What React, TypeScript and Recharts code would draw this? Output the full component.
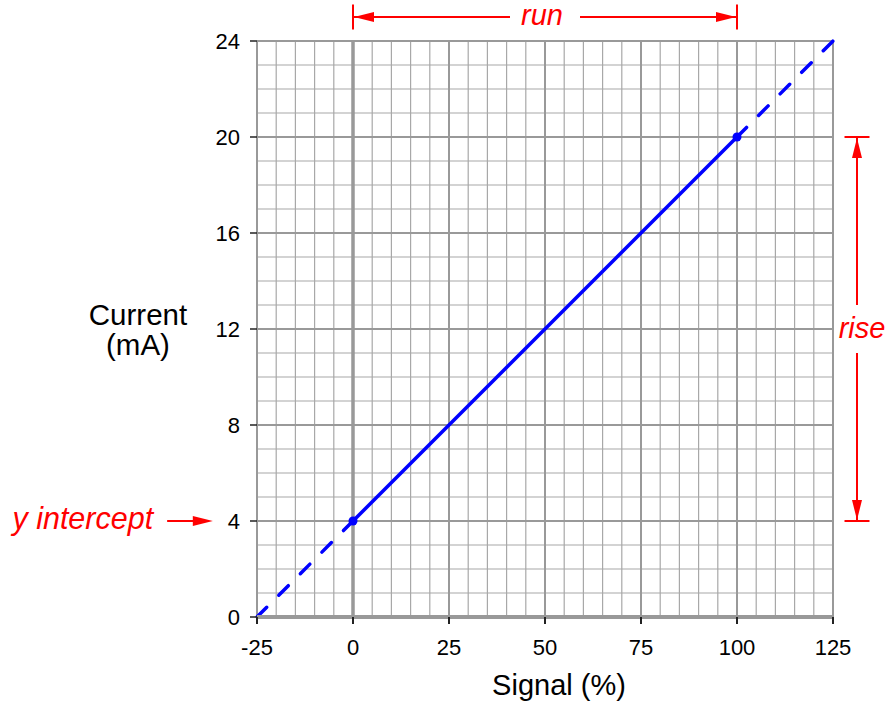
import React from "react";
import { LineChart, Line, XAxis, YAxis, CartesianGrid, ReferenceLine } from "recharts";

// ---- data ----
const signalPct = [-25, 0, 100, 125];
const currentMA = [0, 4, 20, 24];

const xTicks = [-25, 0, 25, 50, 75, 100, 125];
const yTicks = [0, 4, 8, 12, 16, 20, 24];
const xMinor = [-25, -20, -15, -10, -5, 0, 5, 10, 15, 20, 25, 30, 35, 40, 45, 50, 55, 60, 65, 70, 75, 80, 85, 90, 95, 100, 105, 110, 115, 120, 125];
const yMinor = [0, 1, 2, 3, 4, 5, 6, 7, 8, 9, 10, 11, 12, 13, 14, 15, 16, 17, 18, 19, 20, 21, 22, 23, 24];

const runSpan = [0, 100];
const riseSpan = [4, 20];
const interceptValue = 4;

const pt = (i: number) => ({ x: signalPct[i], y: currentMA[i] });
const solidSegment = [pt(1), pt(2)];
const lowerDashed = [pt(1), pt(0)];
const upperDashed = [pt(2), pt(3)];

const FONT = "'Liberation Sans', Arial, sans-serif";
const RED = "#ff0000";
const BLUE = "#0000ff";
const GRID = "#a8a8a8";

function arrowHead(tx: number, ty: number, dx: number, dy: number, len = 20, half = 5) {
  const bx = tx - dx * len;
  const by = ty - dy * len;
  const px = -dy * half;
  const py = dx * half;
  return `${tx},${ty} ${bx + px},${by + py} ${bx - px},${by - py}`;
}

const RunShape = (p: any) => {
  const { x1, x2, y1 } = p;
  const mid = (x1 + x2) / 2;
  return (
    <g>
      <line x1={x1} x2={x1} y1={y1 - 12.5} y2={y1 + 12.5} stroke={RED} strokeWidth={2} />
      <line x1={x2} x2={x2} y1={y1 - 12.5} y2={y1 + 12.5} stroke={RED} strokeWidth={2} />
      <line x1={x1} x2={mid - 35} y1={y1} y2={y1} stroke={RED} strokeWidth={2} />
      <line x1={mid + 35} x2={x2} y1={y1} y2={y1} stroke={RED} strokeWidth={2} />
      <polygon points={arrowHead(x1 + 1, y1, -1, 0)} fill={RED} />
      <polygon points={arrowHead(x2 - 1, y1, 1, 0)} fill={RED} />
      <text x={mid - 3} y={y1 + 8} textAnchor="middle" fill={RED} fontSize={29} fontStyle="italic" fontFamily={FONT}>
        run
      </text>
    </g>
  );
};

const RiseShape = (p: any) => {
  const { x1, y1, y2 } = p;
  const top = Math.min(y1, y2);
  const bot = Math.max(y1, y2);
  const mid = (top + bot) / 2;
  return (
    <g>
      <line x1={x1 - 12.5} x2={x1 + 12.5} y1={top} y2={top} stroke={RED} strokeWidth={2} />
      <line x1={x1 - 12.5} x2={x1 + 12.5} y1={bot} y2={bot} stroke={RED} strokeWidth={2} />
      <line x1={x1} x2={x1} y1={top} y2={mid - 24} stroke={RED} strokeWidth={2} />
      <line x1={x1} x2={x1} y1={mid + 24} y2={bot} stroke={RED} strokeWidth={2} />
      <polygon points={arrowHead(x1, top + 1, 0, -1)} fill={RED} />
      <polygon points={arrowHead(x1, bot - 1, 0, 1)} fill={RED} />
      <text x={x1 + 5} y={mid + 9} textAnchor="middle" fill={RED} fontSize={29} fontStyle="italic" fontFamily={FONT}>
        rise
      </text>
    </g>
  );
};

const InterceptShape = (p: any) => {
  const { x1, x2, y1 } = p;
  return (
    <g>
      <line x1={x1} x2={x2 - 10} y1={y1} y2={y1} stroke={RED} strokeWidth={2} />
      <polygon points={arrowHead(x2, y1, 1, 0)} fill={RED} />
      <text x={x1 - 14} y={y1 + 8} textAnchor="end" fill={RED} fontSize={30.5} fontStyle="italic" fontFamily={FONT}>
        y intercept
      </text>
    </g>
  );
};

const XTitle = (props: any) => {
  const vb = props.viewBox || {};
  return (
    <text x={vb.x + vb.width / 2 + 14} y={vb.y + 78} textAnchor="middle" fill="#000" fontSize={29} fontFamily={FONT}>
      Signal (%)
    </text>
  );
};

const YTitle = (props: any) => {
  const vb = props.viewBox || {};
  const cx = vb.x - 59;
  const cy = vb.y + vb.height / 2;
  return (
    <text textAnchor="middle" fill="#000" fontSize={29.5} fontFamily={FONT}>
      <tspan x={cx} y={cy - 4}>Current</tspan>
      <tspan x={cx} y={cy + 26}>(mA)</tspan>
    </text>
  );
};

export default function App() {
  return (
    <div style={{ position: "absolute", left: 0, top: 0, width: 890, height: 705, background: "#fff" }}>
      <LineChart width={890} height={705} margin={{ top: 41, right: 57, bottom: 48, left: 197 }}>
        <CartesianGrid stroke={GRID} strokeWidth={1.2} horizontalValues={yMinor} verticalValues={xMinor} />
        <CartesianGrid stroke="#999" strokeWidth={2} horizontalValues={yTicks} verticalValues={xTicks} />
        <XAxis
          type="number"
          dataKey="x"
          domain={[-25, 125]}
          ticks={xTicks}
          interval={0}
          tickSize={7}
          tickMargin={15}
          tickLine={{ stroke: "#222", strokeWidth: 2 }}
          axisLine={{ stroke: "#999", strokeWidth: 4 }}
          tick={{ fill: "#000", fontSize: 22, fontFamily: FONT }}
          height={40}
          label={{ content: XTitle }}
        />
        <YAxis
          type="number"
          dataKey="y"
          domain={[0, 24]}
          ticks={yTicks}
          interval={0}
          width={60}
          tickSize={7}
          tickMargin={10}
          tickLine={{ stroke: "#222", strokeWidth: 1.5 }}
          axisLine={false}
          tick={{ fill: "#000", fontSize: 22, fontFamily: FONT }}
          label={{ content: YTitle }}
        />
        <ReferenceLine x={0} stroke="#999" strokeWidth={3.5} />
        <Line data={lowerDashed} dataKey="y" type="linear" stroke={BLUE} strokeWidth={3.5} strokeDasharray="13.5 17" strokeLinecap="round" dot={false} isAnimationActive={false} />
        <Line data={upperDashed} dataKey="y" type="linear" stroke={BLUE} strokeWidth={3.5} strokeDasharray="13.5 17" strokeLinecap="round" dot={false} isAnimationActive={false} />
        <Line data={solidSegment} dataKey="y" type="linear" stroke={BLUE} strokeWidth={3.5} dot={{ r: 4.5, fill: BLUE, stroke: "none" }} isAnimationActive={false} />
        <ReferenceLine
          segment={[{ x: runSpan[0], y: 25 }, { x: runSpan[1], y: 25 }]}
          ifOverflow="visible"
          shape={RunShape}
        />
        <ReferenceLine
          segment={[{ x: 131.25, y: riseSpan[0] }, { x: 131.25, y: riseSpan[1] }]}
          ifOverflow="visible"
          shape={RiseShape}
        />
        <ReferenceLine
          segment={[{ x: -48.4, y: interceptValue }, { x: -36.5, y: interceptValue }]}
          ifOverflow="visible"
          shape={InterceptShape}
        />
      </LineChart>
    </div>
  );
}
